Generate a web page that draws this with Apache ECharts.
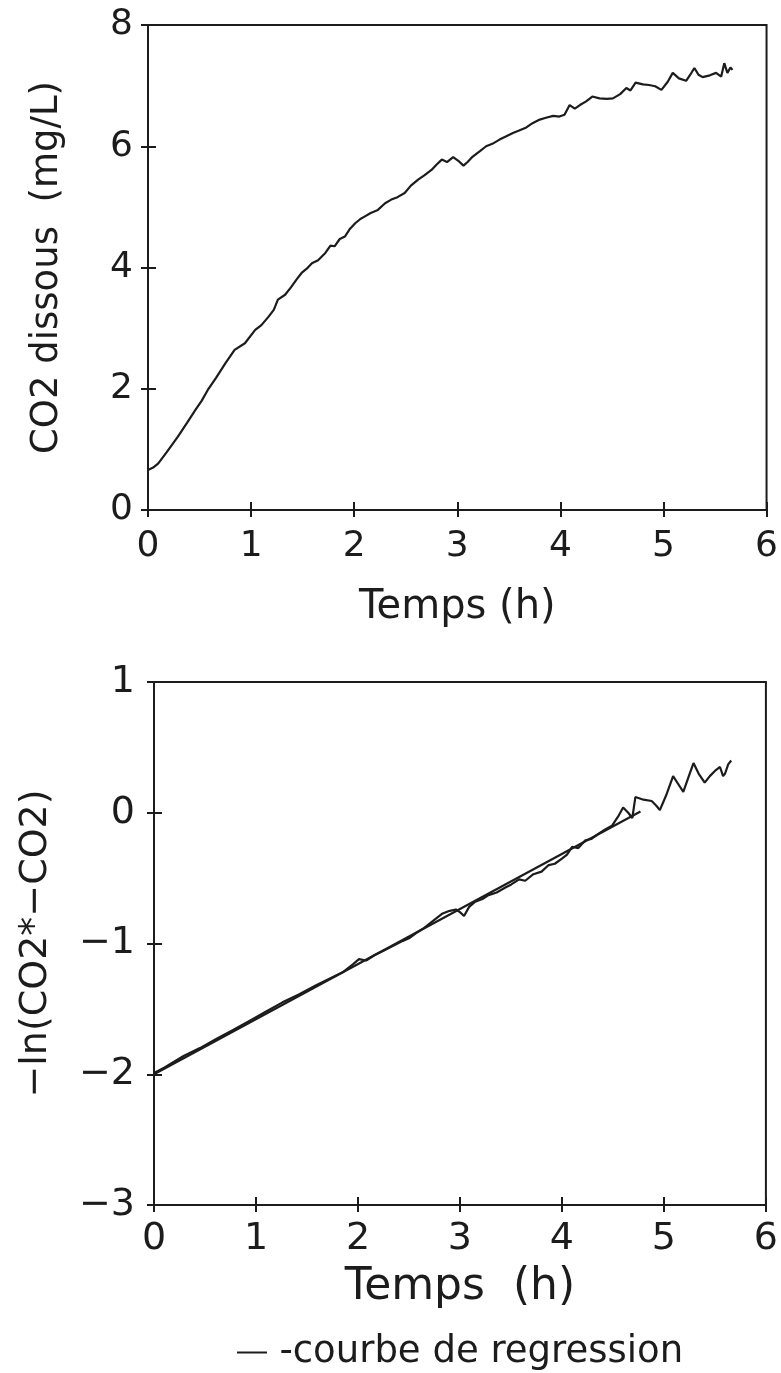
<!DOCTYPE html>
<html>
<head>
<meta charset="utf-8">
<script src="https://cdn.jsdelivr.net/npm/echarts@6/dist/echarts.min.js"></script>
<style>
  html, body { margin: 0; padding: 0; background: #fff; }
  #chart { width: 781px; height: 1373px; }
</style>
</head>
<body>
<div id="chart"></div>
<script>
// ---------- Data ----------
// Top panel: dissolved CO2 (mg/L) vs time (h)
const topTime = [0.00,0.05,0.10,0.18,0.29,0.38,0.46,0.52,0.58,0.66,0.75,0.84,0.94,1.04,1.10,1.17,1.22,1.26,1.33,1.39,1.44,1.49,1.54,1.59,1.65,1.72,1.77,1.81,1.86,1.91,1.96,2.01,2.06,2.10,2.16,2.23,2.30,2.36,2.42,2.49,2.55,2.62,2.68,2.75,2.80,2.85,2.90,2.96,3.01,3.06,3.10,3.15,3.22,3.28,3.34,3.41,3.47,3.54,3.60,3.67,3.73,3.80,3.86,3.93,3.99,4.04,4.09,4.14,4.19,4.25,4.31,4.38,4.45,4.51,4.58,4.64,4.68,4.73,4.80,4.86,4.92,4.98,5.04,5.09,5.15,5.22,5.26,5.30,5.34,5.38,5.45,5.51,5.56,5.59,5.62,5.65,5.67];
const topCO2 = [0.66,0.70,0.77,0.95,1.21,1.44,1.65,1.80,1.98,2.18,2.42,2.64,2.75,2.97,3.05,3.19,3.30,3.47,3.55,3.68,3.80,3.91,3.98,4.07,4.12,4.24,4.36,4.35,4.47,4.51,4.64,4.73,4.80,4.84,4.90,4.95,5.06,5.12,5.16,5.23,5.35,5.45,5.52,5.61,5.70,5.78,5.74,5.82,5.76,5.68,5.74,5.83,5.92,6.00,6.04,6.11,6.16,6.22,6.26,6.31,6.38,6.44,6.47,6.50,6.49,6.52,6.68,6.62,6.68,6.74,6.82,6.79,6.78,6.79,6.86,6.96,6.92,7.05,7.02,7.01,6.99,6.93,7.06,7.21,7.12,7.08,7.18,7.29,7.18,7.14,7.17,7.21,7.15,7.37,7.21,7.30,7.26];

// Bottom panel: -ln(CO2* - CO2) vs time (h)
const botTime = [0.00,0.10,0.29,0.45,0.61,0.78,0.94,1.10,1.26,1.42,1.59,1.72,1.85,1.95,2.01,2.08,2.16,2.24,2.34,2.44,2.50,2.57,2.65,2.73,2.78,2.83,2.90,2.96,3.00,3.04,3.09,3.15,3.22,3.28,3.36,3.45,3.50,3.58,3.64,3.72,3.80,3.87,3.93,4.00,4.05,4.10,4.16,4.23,4.29,4.36,4.42,4.49,4.55,4.60,4.65,4.69,4.72,4.80,4.88,4.93,4.96,5.02,5.09,5.14,5.19,5.24,5.29,5.34,5.40,5.45,5.50,5.55,5.58,5.60,5.63,5.66];
const botLn = [-1.99,-1.95,-1.86,-1.80,-1.73,-1.66,-1.59,-1.52,-1.45,-1.39,-1.32,-1.27,-1.22,-1.16,-1.12,-1.13,-1.09,-1.06,-1.02,-0.98,-0.96,-0.92,-0.88,-0.83,-0.80,-0.77,-0.75,-0.74,-0.76,-0.79,-0.72,-0.68,-0.66,-0.63,-0.61,-0.57,-0.55,-0.51,-0.52,-0.47,-0.45,-0.40,-0.39,-0.35,-0.32,-0.26,-0.27,-0.21,-0.20,-0.16,-0.13,-0.10,-0.03,0.04,0.00,-0.04,0.12,0.10,0.09,0.05,0.02,0.13,0.28,0.22,0.16,0.27,0.38,0.30,0.23,0.28,0.32,0.35,0.28,0.30,0.37,0.40];

// Regression line (bottom panel)
const regTime = [0.00, 4.77];
const regLn = [-2.00, 0.01];

// Tick labels
const timeTicks = [0, 1, 2, 3, 4, 5, 6];
const topYTicks = [0, 2, 4, 6, 8];
const botYTicks = [-3, -2, -1, 0, 1];

const legendLabel = '-courbe de regression';

// ---------- Chart ----------
const INK = '#1c1c1c';
const FONT = 'DejaVu Sans';
const pairs = (xs, ys) => xs.map((x, i) => [x, ys[i]]);
const minus = v => String(v).replace('-', '\u2212');

function axisBase(ticks, grid, fontSize, margin, formatter) {
  return {
    type: 'value', gridIndex: grid,
    min: ticks[0], max: ticks[ticks.length - 1], interval: ticks[1] - ticks[0],
    splitLine: { show: false },
    axisLine: { show: true, onZero: false, lineStyle: { color: INK, width: 2 } },
    axisTick: { show: true, inside: true, length: 8, lineStyle: { color: INK, width: 2 } },
    axisLabel: { show: true, color: INK, fontFamily: FONT, fontSize: fontSize, margin: margin,
                 formatter: formatter || (v => String(v)) }
  };
}
function axisOuterTicks(ticks, grid) {
  return {
    type: 'value', gridIndex: grid,
    min: ticks[0], max: ticks[ticks.length - 1], interval: ticks[1] - ticks[0],
    splitLine: { show: false },
    axisLine: { show: false, onZero: false },
    axisTick: { show: true, inside: false, length: 7, lineStyle: { color: INK, width: 2 } },
    axisLabel: { show: false }
  };
}

const chart = echarts.init(document.getElementById('chart'), null, { renderer: 'canvas' });

const xTop = axisBase(timeTicks, 0, 36, 19);
Object.assign(xTop, { position: 'bottom', name: 'Temps (h)', nameLocation: 'middle', nameGap: 78,
  nameTextStyle: { color: INK, fontFamily: FONT, fontSize: 40 } });
const yTop = axisBase(topYTicks, 0, 36, 15);
Object.assign(yTop, { position: 'left', name: 'CO2 dissous  (mg/L)', nameLocation: 'middle', nameGap: 82,
  nameTextStyle: { color: INK, fontFamily: FONT, fontSize: 37 } });

const xBot = axisBase(timeTicks, 1, 38, 15);
Object.assign(xBot, { position: 'bottom', name: 'Temps  (h)', nameLocation: 'middle', nameGap: 61,
  nameTextStyle: { color: INK, fontFamily: FONT, fontSize: 44 } });
const yBot = axisBase(botYTicks, 1, 38, 19, minus);
Object.assign(yBot, { position: 'left', name: '\u2212ln(CO2*\u2212CO2)', nameLocation: 'middle', nameGap: 99,
  nameTextStyle: { color: INK, fontFamily: FONT, fontSize: 38 } });

const xTopO = Object.assign(axisOuterTicks(timeTicks, 0), { position: 'bottom' });
const yTopO = Object.assign(axisOuterTicks(topYTicks, 0), { position: 'left' });
const xBotO = Object.assign(axisOuterTicks(timeTicks, 1), { position: 'bottom' });
const yBotO = Object.assign(axisOuterTicks(botYTicks, 1), { position: 'left' });

chart.setOption({
  animation: false,
  backgroundColor: '#ffffff',
  grid: [
    { left: 148, top: 25, width: 619, height: 485, show: true, borderColor: INK, borderWidth: 2, backgroundColor: 'transparent' },
    { left: 154, top: 682, width: 614, height: 523, show: true, borderColor: INK, borderWidth: 2, backgroundColor: 'transparent' }
  ],
  xAxis: [xTop, xBot, xTopO, xBotO],
  yAxis: [yTop, yBot, yTopO, yBotO],
  legend: {
    left: 232, top: 1329,
    data: [{ name: legendLabel, icon: 'path://M0,0 H30 V2 H0 Z' }],
    itemWidth: 30, itemHeight: 2, itemGap: 10,
    formatter: n => '\u2009' + n,
    textStyle: { color: INK, fontFamily: FONT, fontSize: 37 },
    selectedMode: false
  },
  series: [
    { type: 'line', xAxisIndex: 0, yAxisIndex: 0, data: pairs(topTime, topCO2),
      showSymbol: false, lineStyle: { color: INK, width: 2.2 } },
    { type: 'line', xAxisIndex: 1, yAxisIndex: 1, data: pairs(botTime, botLn),
      showSymbol: false, lineStyle: { color: INK, width: 2.2 } },
    { type: 'line', name: legendLabel, xAxisIndex: 1, yAxisIndex: 1, data: pairs(regTime, regLn),
      showSymbol: false, itemStyle: { color: INK }, lineStyle: { color: INK, width: 2.2 } }
  ]
});
</script>
</body>
</html>
